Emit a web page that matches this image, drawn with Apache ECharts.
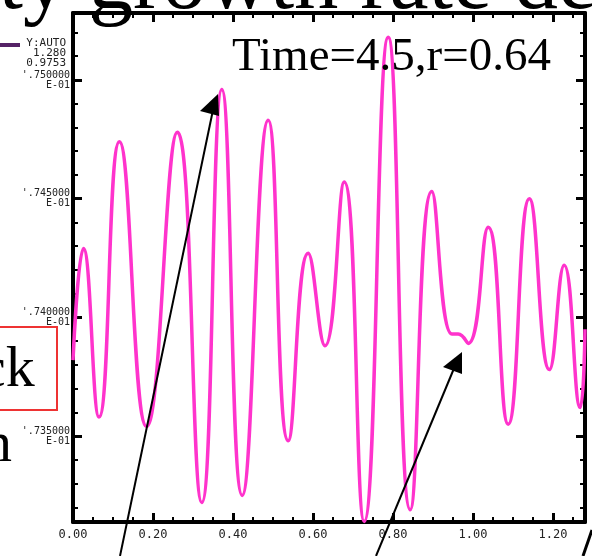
<!DOCTYPE html>
<html>
<head>
<meta charset="utf-8">
<script src="https://cdn.jsdelivr.net/npm/echarts@6/dist/echarts.min.js"></script>
<style>html,body{margin:0;padding:0;background:#fff}#c{width:592px;height:556px}</style>
</head>
<body>
<div id="c"></div>
<script>
// x positions (dimensionless) and values of the growth-rate curve
const xValues = [0.000,0.026,0.065,0.116,0.184,0.261,0.322,0.372,0.423,0.488,0.538,0.588,0.630,0.678,0.728,0.788,0.843,0.897,0.947,0.963,0.988,1.038,1.088,1.141,1.191,1.228,1.268,1.280];
const yValues = [0.07382,0.07429,0.07358,0.07474,0.07354,0.07478,0.07322,0.07496,0.07325,0.07483,0.07348,0.07427,0.07388,0.07457,0.07314,0.07518,0.07319,0.07453,0.07393,0.07393,0.07389,0.07438,0.07355,0.07450,0.07378,0.07422,0.07362,0.07395];
const yMajorTicks = [0.0735,0.0740,0.0745,0.0750];
const yMinorTicks = [0.0732,0.0733,0.0734,0.0736,0.0737,0.0738,0.0739,0.0741,0.0742,0.0743,0.0744,0.0746,0.0747,0.0748,0.0749,0.0751,0.0752];
const yMin = 0.073138, yMax = 0.075282;
const xMin = 0, xMax = 1.28, xStep = 0.2;
const caption = 'Time=4.5,r=0.64';
const autoLines = ['Y:AUTO','1.280','0.9753'];

const chart = echarts.init(document.getElementById('c'), null, {renderer:'canvas'});
const data = xValues.map((x,i)=>[x,yValues[i]]);
const black = '#000';
function yLab(v){ return "'" + (v*10).toFixed(6).replace(/^0/,'') + '\nE-01'; }
const xAxisBase = {
  type:'value', min:xMin, max:xMax, interval:xStep,
  axisLine:{show:true,lineStyle:{color:black,width:4}},
  axisTick:{show:true,inside:true,length:9,lineStyle:{color:black,width:3}},
  minorTick:{show:true,splitNumber:4,length:5,lineStyle:{color:black,width:2}},
  splitLine:{show:false}, minorSplitLine:{show:false}
};
const yAxisMajor = (pos,label)=>({
  type:'value', position:pos, min:yMin, max:yMax,
  axisLine:{show:true,lineStyle:{color:black,width:4}},
  axisTick:{show:true,inside:true,length:9,customValues:yMajorTicks,lineStyle:{color:black,width:3}},
  axisLabel:{show:label,customValues:yMajorTicks,formatter:yLab,fontFamily:'DejaVu Sans Mono',fontSize:10,lineHeight:10,color:'#222',margin:3,align:'right'},
  splitLine:{show:false}
});
const yAxisMinor = (pos)=>({
  type:'value', position:pos, min:yMin, max:yMax,
  axisLine:{show:false},
  axisTick:{show:true,inside:true,length:5,customValues:yMinorTicks,lineStyle:{color:black,width:2}},
  axisLabel:{show:false}, splitLine:{show:false}
});
chart.setOption({
  animation:false,
  backgroundColor:'#fff',
  grid:{left:73,right:7,top:13,bottom:34,containLabel:false},
  xAxis:[
    Object.assign({},xAxisBase,{position:'bottom',axisLabel:{show:true,showMaxLabel:false,formatter:v=>v.toFixed(2),fontFamily:'DejaVu Sans Mono',fontSize:12,color:'#222',margin:7}}),
    Object.assign({},xAxisBase,{position:'top',axisLabel:{show:false}})
  ],
  yAxis:[yAxisMajor('left',true), yAxisMinor('left'), yAxisMajor('right',false), yAxisMinor('right')],
  series:[{
    type:'line', data:data, xAxisIndex:0, yAxisIndex:0,
    smooth:0.5, showSymbol:false, clip:false,
    lineStyle:{color:'#ff33cc',width:3.5}, z:5
  }],
  graphic:[
    {type:'text',left:232,top:34,z:50,style:{text:caption,font:'47px "Liberation Serif"',fill:'#000'}},
    {type:'text',x:-26,y:-59,z:60,style:{text:'ity growth rate de',font:'88px "Liberation Serif"',fill:'#000'}},
    {type:'line',z:40,shape:{x1:0,y1:45,x2:20,y2:45},style:{stroke:'#552266',lineWidth:4}},
    {type:'text',x:66,y:38,z:40,style:{text:autoLines.join('\n'),font:'11px "DejaVu Sans Mono"',lineHeight:10,align:'right',fill:'#222'}},
    {type:'rect',z:40,shape:{x:-2,y:327,width:59,height:83},style:{fill:'#fff',stroke:'#ee3333',lineWidth:2}},
    {type:'text',x:-20,y:342,z:41,style:{text:'ck',font:'58px "Liberation Serif"',fill:'#000'}},
    {type:'text',x:-17,y:417,z:41,style:{text:'n',font:'58px "Liberation Serif"',fill:'#000'}},
    {type:'line',z:70,shape:{x1:120,y1:556,x2:213,y2:110},style:{stroke:'#000',lineWidth:2}},
    {type:'polygon',z:70,shape:{points:[[218,94],[200,111],[219,116]]},style:{fill:'#000'}},
    {type:'line',z:70,shape:{x1:376,y1:556,x2:455,y2:366},style:{stroke:'#000',lineWidth:2}},
    {type:'polygon',z:70,shape:{points:[[462,352],[443,367],[462,374]]},style:{fill:'#000'}},
    {type:'line',z:70,shape:{x1:583,y1:556,x2:592,y2:530},style:{stroke:'#000',lineWidth:3}}
  ]
});
</script>
</body>
</html>
